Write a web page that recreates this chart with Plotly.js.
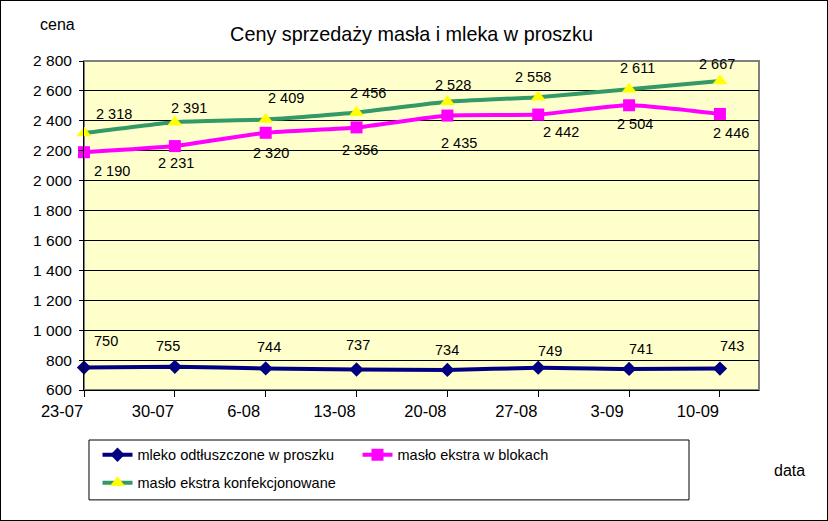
<!DOCTYPE html>
<html>
<head>
<meta charset="utf-8">
<script src="https://cdn.plot.ly/plotly-3.0.1.min.js"></script>
<style>
html,body{margin:0;padding:0;background:#fff;}
#wrap{width:828px;height:521px;box-sizing:border-box;border:1px solid #000;overflow:hidden;}
#chart{width:826px;height:519px;}
</style>
</head>
<body>
<div id="wrap"><div id="chart"></div></div>
<script>
const categories = ['23-07','30-07','6-08','13-08','20-08','27-08','3-09','10-09'];
const mleko = [750, 755, 744, 737, 734, 749, 741, 743];
const bloki = [2190, 2231, 2320, 2356, 2435, 2442, 2504, 2446];
const konf = [2318, 2391, 2409, 2456, 2528, 2558, 2611, 2667];
const names = ['mleko odtłuszczone w proszku', 'masło ekstra w blokach', 'masło ekstra konfekcjonowane'];

// data-label placement offsets in pixels (label styling, not data)
const mlekoLabelDx = [22, -7, 3, 1, 0, 12, 12, 12];
const mlekoLabelDy = [27, 21, 21, 25, 20, 17, 20, 23];
const blokiLabelDx = [28, 1, 5, 3, 12, 23, 6, 11];
const blokiLabelDy = [-19, -17, -20, -23, -27, -17, -19, -19];
const konfLabelDx = [30, 14, 20, 11, 6, -5, 8, -3];
const konfLabelDy = [19, 14, 21, 19, 17, 20, 21, 17];

const xs = categories.map((c, i) => i);
const F = 'Liberation Sans, Arial, sans-serif';
const fmt = v => String(v).replace(/\B(?=(\d{3})+(?!\d))/g, ' ');

const traces = [
  {
    x: xs, y: mleko, name: names[0], type: 'scatter', mode: 'lines+markers',
    line: {color: '#000080', width: 4, shape: 'spline', smoothing: 0.5},
    marker: {symbol: 'diamond', size: 11, color: '#000080'},
    legend: 'legend', cliponaxis: false
  },
  {
    x: xs, y: bloki, name: names[1], type: 'scatter', mode: 'lines+markers',
    line: {color: '#FF00FF', width: 4, shape: 'spline', smoothing: 0.5},
    marker: {symbol: 'square', size: 12, color: '#FF00FF'},
    legend: 'legend', cliponaxis: false
  },
  {
    x: xs, y: konf, name: names[2], type: 'scatter', mode: 'lines+markers',
    line: {color: '#339966', width: 4, shape: 'spline', smoothing: 0.5},
    marker: {symbol: 'triangle-up', size: 13, color: '#FFFF00'},
    legend: 'legend2', cliponaxis: false
  }
];

const labelAnns = [];
[[mleko, mlekoLabelDx, mlekoLabelDy], [bloki, blokiLabelDx, blokiLabelDy], [konf, konfLabelDx, konfLabelDy]].forEach(([vals, dx, dy]) => {
  vals.forEach((v, i) => {
    labelAnns.push({
      x: xs[i], y: v, xref: 'x', yref: 'y', text: fmt(v), showarrow: false,
      xanchor: 'center', yanchor: 'middle', xshift: dx[i], yshift: dy[i],
      font: {family: F, size: 14.5, color: '#000'}
    });
  });
});

const layout = {
  width: 826, height: 519,
  margin: {l: 83, r: 68, t: 60, b: 130},
  paper_bgcolor: '#ffffff',
  plot_bgcolor: '#FFFFCC',
  separators: ', ',
  font: {family: F, size: 14, color: '#000'},
  title: {text: 'Ceny sprzedaży masła i mleka w proszku', font: {family: F, size: 19.8, color: '#000'},
          x: 0.497, xanchor: 'center', y: 0.937, yanchor: 'middle'},
  xaxis: {
    range: [0, 7.43], tickmode: 'array', tickvals: xs, ticktext: categories,
    showgrid: false, zeroline: false, showline: true, linecolor: '#000', linewidth: 1,
    ticks: 'outside', ticklen: 6, tickcolor: '#000', ticklabelshift: -22,
    tickfont: {family: F, size: 16.5, color: '#000'}, fixedrange: true
  },
  yaxis: {
    range: [600, 2800], dtick: 200, tick0: 600, tickformat: ',d',
    showgrid: true, gridcolor: '#000', gridwidth: 1, zeroline: false,
    showline: true, linecolor: '#000', linewidth: 1,
    ticks: 'outside', ticklen: 4, tickcolor: '#000', ticklabelstandoff: 4,
    tickfont: {family: F, size: 15.5, color: '#000'}, fixedrange: true
  },
  showlegend: true,
  legend: {orientation: 'h', x: 0.02, xanchor: 'left', y: -0.197, yanchor: 'middle',
           bgcolor: 'rgba(0,0,0,0)', entrywidth: 215, entrywidthmode: 'pixels',
           font: {family: F, size: 14.5, color: '#000'}, itemclick: false},
  legend2: {orientation: 'h', x: 0.02, xanchor: 'left', y: -0.282, yanchor: 'middle',
           bgcolor: 'rgba(0,0,0,0)',
           font: {family: F, size: 14.5, color: '#000'}, itemclick: false},
  shapes: [
    {type: 'rect', xref: 'paper', yref: 'paper', x0: 0, x1: 1, y0: 0, y1: 1,
     line: {color: '#808080', width: 2}, layer: 'below'},
    {type: 'rect', xref: 'paper', yref: 'paper', x0: 0.0074, x1: 0.8963, y0: -0.152, y1: -0.334,
     line: {color: '#000', width: 1}, fillcolor: 'rgba(0,0,0,0)'}
  ],
  annotations: [
    {text: 'cena', xref: 'paper', yref: 'paper', x: -0.04, y: 1.11, xanchor: 'center', yanchor: 'middle',
     showarrow: false, font: {family: F, size: 16, color: '#000'}},
    {text: 'data', xref: 'paper', yref: 'paper', x: 1.045, y: -0.245, xanchor: 'center', yanchor: 'middle',
     showarrow: false, font: {family: F, size: 16, color: '#000'}}
  ].concat(labelAnns)
};

Plotly.newPlot('chart', traces, layout, {displayModeBar: false, staticPlot: true});
</script>
</body>
</html>
